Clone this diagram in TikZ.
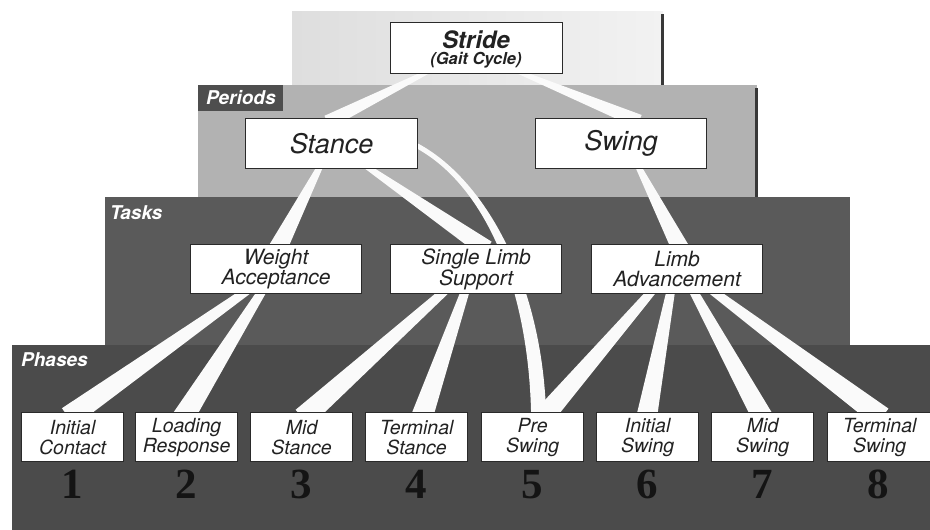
\documentclass[tikz,border=0pt]{standalone}
\usepackage{fontspec}
\setmainfont{TeX Gyre Heros}
\newfontfamily\numfont{Liberation Serif}
\usetikzlibrary{calc}
\pgfdeclarelayer{bands}
\pgfdeclarelayer{links}
\pgfsetlayers{bands,links,main}

\definecolor{strideL}{HTML}{DEDEDE}
\definecolor{strideR}{HTML}{F2F2F2}
\definecolor{periodband}{HTML}{B2B2B2}
\definecolor{taskband}{HTML}{5A5A5A}
\definecolor{phaseband}{HTML}{4B4B4B}
\definecolor{labelbox}{HTML}{4E4E4E}
\definecolor{edgeshade}{HTML}{383838}
\definecolor{boxline}{HTML}{2A2A2A}
\definecolor{ink}{HTML}{222222}
\definecolor{linkwhite}{HTML}{FAFAFA}

\tikzset{
  box/.style={draw=boxline, line width=1.3pt, fill=white, inner sep=0pt,
    anchor=north west, align=center, text=ink},
  topbox/.style={box, minimum width=172, minimum height=51},
  periodbox/.style={box, minimum width=172, minimum height=50,
    font=\fontsize{27}{30}\selectfont\itshape},
  taskbox/.style={box, minimum width=171, minimum height=49,
    font=\fontsize{21}{20.5}\selectfont\itshape},
  phasebox/.style={box, minimum width=102, minimum height=49,
    font=\fontsize{19.5}{20}\selectfont\itshape},
  boxtext/.style={inner sep=0pt, anchor=base, text=ink},
  num/.style={inner sep=0pt, text=black!92,
    font=\numfont\bfseries\fontsize{43}{43}\selectfont},
  bandlabel/.style={inner sep=0pt, anchor=west, text=white,
    font=\fontsize{19}{20}\selectfont\bfseries\itshape},
  link/.style={fill=linkwhite},
  shadeedge/.style={draw=edgeshade, line width=3pt},
}

% wedge-shaped connector: parent node, x offset on its bottom side,
% child node, x offset on its top side, half widths at both ends
\newcommand\taperlink[6]{%
  \path ($(#1.south)+(#2,0)$) coordinate (tp) ($(#3.north)+(#4,0)$) coordinate (tq);
  \path ($(tp)!-9pt!(tq)$) coordinate (ta) ($(tq)!-9pt!(tp)$) coordinate (tb);
  \fill[link] ($(ta)!#5pt!90:(tb)$) -- ($(ta)!#5pt!-90:(tb)$)
    -- ($(tb)!#6pt!90:(ta)$) -- ($(tb)!#6pt!-90:(ta)$) -- cycle;%
}

\begin{document}
\begin{tikzpicture}[x=1pt, y=-1pt]
\useasboundingbox (0,0) rectangle (930,530);

% ---- boxes ----
\node[topbox] (stride) at (390,22) {};
\node[boxtext, font=\fontsize{24}{24}\selectfont\bfseries\itshape]
  (stridetitle) at (476,48) {Stride};
\node[boxtext, font=\fontsize{16.5}{17}\selectfont\bfseries\itshape]
  (stridesub) at (476,64) {(Gait Cycle)};

\node[periodbox] (stance) at (245,118) {Stance};
\node[periodbox, minimum width=171] (swing) at (535,118) {Swing};

\node[taskbox] (wa)  at (190,244) {Weight\\Acceptance};
\node[taskbox] (sls) at (390,244) {Single Limb\\Support};
\node[taskbox] (la)  at (591,244) {Limb\\Advancement};

\node[phasebox] (ic)  at (21,412)  {Initial\\Contact};
\node[phasebox] (lr)  at (135,412) {Loading\\Response};
\node[phasebox] (ms)  at (250,412) {Mid\\Stance};
\node[phasebox] (ts)  at (365,412) {Terminal\\Stance};
\node[phasebox] (ps)  at (481,412) {Pre\\Swing};
\node[phasebox] (isw) at (596,412) {Initial\\Swing};
\node[phasebox] (msw) at (711,412) {Mid\\Swing};
\node[phasebox, minimum width=104] (tsw) at (827,412) {Terminal\\Swing};

% ---- phase numbers ----
\node[num] (n1) at ($(ic.south)+(0,22)$)  {1};
\node[num] (n2) at ($(lr.south)+(0,22)$)  {2};
\node[num] (n3) at ($(ms.south)+(0,22)$)  {3};
\node[num] (n4) at ($(ts.south)+(0,22)$)  {4};
\node[num] (n5) at ($(ps.south)+(0,22)$)  {5};
\node[num] (n6) at ($(isw.south)+(0,22)$) {6};
\node[num] (n7) at ($(msw.south)+(0,22)$) {7};
\node[num] (n8) at ($(tsw.south)+(-1,22)$) {8};

% ---- band labels ----
\node[bandlabel] (lperiods) at (206,98)  {Periods};
\node[bandlabel] (ltasks)   at (110,213) {Tasks};
\node[bandlabel] (lphases)  at (21,360)  {Phases};

% ---- stepped background bands ----
\begin{pgfonlayer}{bands}
  \fill[white] (0,0) rectangle (930,530);
  \shade[left color=strideL, right color=strideR] (292,11) rectangle (663,85);
  \draw[shadeedge] (662,14) -- (662,85);
  \fill[periodband] (198,85) rectangle (757,197);
  \draw[shadeedge] (756,88) -- (756,197);
  \fill[labelbox] (198,85) rectangle (283,111);
  \fill[taskband] (105,197) rectangle (850,345);
  \fill[phaseband] (12,345) rectangle (930,530);
\end{pgfonlayer}

% ---- connectors ----
\begin{pgfonlayer}{links}
  \taperlink{stride}{-54}{stance}{4}{2}{7}
  \taperlink{stride}{48}{swing}{9.5}{2}{7}

  \taperlink{stance}{-13}{wa}{4}{2.5}{9.5}
  \taperlink{stance}{39}{sls}{3}{2.5}{9}
  \taperlink{swing}{18.5}{la}{1}{2.5}{9}

  \taperlink{wa}{-34}{ic}{3}{4}{11}
  \taperlink{wa}{-16}{lr}{0}{4}{11}
  \taperlink{sls}{-35}{ms}{8}{4}{11}
  \taperlink{sls}{-12}{ts}{7}{4}{11}
  \taperlink{la}{-28}{ps}{15}{4}{10.5}
  \taperlink{la}{-7}{isw}{0}{4}{10.5}
  \taperlink{la}{18}{msw}{-3}{4}{10.5}
  \taperlink{la}{40}{tsw}{-5}{4}{11}

  % curved stance -> pre swing connector, passing behind the support box
  \fill[link] ($(stance.east)+(-7,-3.5)$)
      .. controls ($(stance.east)+(64,29.7)$) and ($(ps.north)+(10,-132)$) ..
      ($(ps.north)+(13.5,4)$)
    -- ($(ps.north)+(-1.5,4)$)
      .. controls ($(ps.north)+(-4,-132)$) and ($(stance.east)+(62,34.3)$) ..
      ($(stance.east)+(-9,1)$) -- cycle;
\end{pgfonlayer}
\end{tikzpicture}
\end{document}
